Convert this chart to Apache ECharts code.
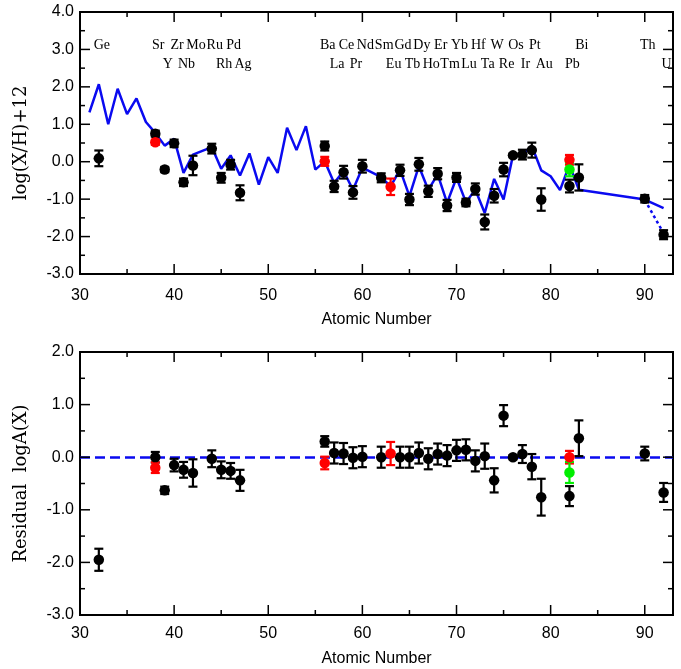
<!DOCTYPE html>
<html><head><meta charset="utf-8">
<script src="https://cdn.jsdelivr.net/npm/echarts@6/dist/echarts.min.js"></script>
<style>html,body{margin:0;padding:0;background:#fff}#c{width:681px;height:669px}</style>
</head><body><div id="c"></div>
<script>
// ---------- data ----------
const modelZ = [31,32,33,34,35,36,37,38,39,40,41,42,44,45,46,47,48,49,50,51,52,53,54,55,56,57,58,59,60,62,63,64,65,66,67,68,69,70,71,72,73,74,75,76,77,78,79,80,81,82,83,90,92];
const modelY = [1.32,2.07,1.00,1.95,1.27,1.69,1.06,0.77,0.43,0.61,-0.30,0.19,0.39,-0.19,0.17,-0.37,0.22,-0.61,0.12,-0.30,0.91,0.31,0.95,-0.21,0.01,-0.57,-0.25,-0.75,-0.16,-0.41,-0.66,-0.21,-0.92,-0.12,-0.75,-0.34,-1.10,-0.43,-1.08,-0.75,-1.37,-0.46,-1.01,0.17,0.19,0.42,-0.23,-0.39,-0.76,-0.08,-0.75,-1.01,-1.24];
const extrapZ = [90,91.8];
const extrapY = [-1.02,-1.82];

const obsZ   = [32,38,39,40,41,42,44,45,46,47,56,57,58,59,60,62,64,65,66,67,68,69,70,71,72,73,74,75,76,77,78,79,82,83,90,92];
const obsY   = [0.09,0.75,-0.21,0.49,-0.55,-0.10,0.35,-0.43,-0.08,-0.83,0.42,-0.66,-0.28,-0.82,-0.12,-0.43,-0.23,-1.01,-0.07,-0.79,-0.32,-1.17,-0.42,-1.09,-0.73,-1.61,-0.91,-0.21,0.17,0.19,0.31,-1.01,-0.65,-0.42,-0.99,-1.95];
const obsErr = [0.21,0.08,0.07,0.10,0.10,0.26,0.13,0.13,0.13,0.20,0.12,0.15,0.17,0.17,0.17,0.12,0.15,0.15,0.17,0.15,0.15,0.15,0.12,0.10,0.15,0.20,0.18,0.18,0.05,0.13,0.20,0.30,0.17,0.35,0.10,0.12];

const redZ = [38,56,63,82];
const redY = [0.52,0.01,-0.67,0.05];
const redErr = [0.07,0.12,0.22,0.13];
const greenZ = [82];
const greenY = [-0.21];
const greenErr = [0.18];

const resY   = [-1.95,0.00,-0.63,-0.15,-0.24,-0.30,-0.03,-0.24,-0.26,-0.44,0.30,0.08,0.07,-0.01,0.01,0.00,0.00,0.00,0.08,-0.03,0.06,0.03,0.13,0.14,-0.07,0.02,-0.44,0.79,0.00,0.06,-0.18,-0.76,-0.74,0.36,0.07,-0.67];
const resErr = [0.21,0.10,0.07,0.12,0.15,0.26,0.16,0.16,0.15,0.20,0.10,0.20,0.20,0.20,0.20,0.20,0.20,0.20,0.20,0.20,0.20,0.20,0.20,0.20,0.20,0.24,0.23,0.20,0.04,0.17,0.24,0.35,0.19,0.34,0.13,0.18];
const redResY = [-0.20,-0.11,0.07,0.00];
const redResErr = [0.10,0.12,0.22,0.12];
const greenResY = [-0.29];
const greenResErr = [0.20];

const elemNames = ['Ge','Sr','Y','Zr','Nb','Mo','Ru','Rh','Pd','Ag','Ba','La','Ce','Pr','Nd','Sm','Eu','Gd','Tb','Dy','Ho','Er','Tm','Yb','Lu','Hf','Ta','W','Re','Os','Ir','Pt','Au','Pb','Bi','Th','U'];
const elemZ     = [32,38,39,40,41,42,44,45,46,47,56,57,58,59,60,62,63,64,65,66,67,68,69,70,71,72,73,74,75,76,77,78,79,82,83,90,92];
const elemRow   = [0,0,1,0,1,0,0,1,0,1,0,1,0,1,0,0,1,0,1,0,1,0,1,0,1,0,1,0,1,0,1,0,1,1,0,0,1];

const xMajor = [30,40,50,60,70,80,90];
const xMinor = [35,45,55,65,75,85];
const yMajorTop = [-3,-2,-1,0,1,2,3,4];
const yMinorTop = [-2.5,-1.5,-0.5,0.5,1.5,2.5,3.5];
const yMajorRes = [-3,-2,-1,0,1,2];
const yMinorRes = [-2.5,-1.5,-0.5,0.5,1.5];

// ---------- helpers ----------
const rowY = [3.12, 2.60];
const zip3 = (a,b,c) => a.map((v,i)=>[v,b[i],c[i]]);
const zip2 = (a,b) => a.map((v,i)=>[v,b[i]]);
const SANS = '"Liberation Sans", Arial, Helvetica, sans-serif';
const SERIF = '"DejaVu Serif", serif';
const BLUE = '#0a0af0';

function errRender(color){
  return function(params, api){
    const x = api.value(0), y = api.value(1), e = api.value(2);
    const hi = api.coord([x, y+e]), lo = api.coord([x, y-e]);
    const cw = 4.5;
    const st = {stroke: color, lineWidth: 2.2};
    return {type:'group', children:[
      {type:'line', shape:{x1:hi[0],y1:hi[1],x2:lo[0],y2:lo[1]}, style:st},
      {type:'line', shape:{x1:hi[0]-cw,y1:hi[1],x2:hi[0]+cw,y2:hi[1]}, style:st},
      {type:'line', shape:{x1:lo[0]-cw,y1:lo[1],x2:lo[0]+cw,y2:lo[1]}, style:st}
    ]};
  };
}
function errSeries(grid, data, color){
  return {type:'custom', xAxisIndex: grid, yAxisIndex: grid, data, renderItem: errRender(color), silent:true, z:3};
}
function dotSeries(grid, data, color){
  return {type:'scatter', xAxisIndex: grid, yAxisIndex: grid, data, symbol:'circle', symbolSize:10.5,
    itemStyle:{color, opacity:1}, silent:true, z:4};
}
// axis ticks (major/minor, inward, mirrored on all four sides), placed through the axis scales
function tickSeries(grid, yMajor, yMinor, yMin){
  return {type:'custom', xAxisIndex:grid, yAxisIndex:grid, silent:true, z:6, clip:false,
    data:[[0]],
    renderItem:function(params, api){
      const cs = params.coordSys;
      const top = cs.y, bot = cs.y + cs.height, left = cs.x, right = cs.x + cs.width;
      const st = {stroke:'#000', lineWidth:1.5};
      const kids = [];
      const vx = (vals, len) => vals.forEach(v => {
        const px = api.coord([v, yMin])[0];
        kids.push({type:'line', shape:{x1:px,y1:bot,x2:px,y2:bot-len}, style:st});
        kids.push({type:'line', shape:{x1:px,y1:top,x2:px,y2:top+len}, style:st});
      });
      const vy = (vals, len) => vals.forEach(v => {
        const py = api.coord([30, v])[1];
        kids.push({type:'line', shape:{x1:left,y1:py,x2:left+len,y2:py}, style:st});
        kids.push({type:'line', shape:{x1:right,y1:py,x2:right-len,y2:py}, style:st});
      });
      vx(xMajor, 10); vx(xMinor, 5); vy(yMajor, 10); vy(yMinor, 5);
      return {type:'group', children:kids};
    }};
}

function xAxis(grid, name, nameGap, labelMargin){
  return {gridIndex:grid, type:'value', min:30, max:93, position:'bottom', splitLine:{show:false},
    axisLine:{show:false}, axisTick:{show:false},
    axisLabel:{show:true, customValues:xMajor, margin:labelMargin, fontFamily:SANS, fontSize:16, color:'#000'},
    name, nameLocation:'middle', nameGap, nameTextStyle:{fontFamily:SANS, fontSize:16, color:'#000'}};
}
function yAxis(grid, min, max, name, nameGap){
  return {gridIndex:grid, type:'value', min, max, interval:1, position:'left', splitLine:{show:false},
    axisLine:{show:false}, axisTick:{show:false},
    axisLabel:{show:true, margin:6, fontFamily:SANS, fontSize:16, color:'#000', formatter:v=>v.toFixed(1)},
    name, nameLocation:'middle', nameGap, nameRotate:90,
    nameTextStyle:{fontFamily:SERIF, fontSize:18, color:'#000'}};
}

const option = {
  animation:false,
  backgroundColor:'#fff',
  grid:[
    {left:80, width:593, top:12, height:262, show:true, borderColor:'#000', borderWidth:2, backgroundColor:'transparent'},
    {left:80, width:593, top:352, height:263, show:true, borderColor:'#000', borderWidth:2, backgroundColor:'transparent'}
  ],
  xAxis:[xAxis(0,'Atomic Number',38,14), xAxis(1,'Atomic Number',36,11)],
  yAxis:[yAxis(0,-3,4,'log(X/H)+12',50), yAxis(1,-3,2,'Residual  logA(X)',50)],
  series:[
    tickSeries(0, yMajorTop, yMinorTop, -3),
    tickSeries(1, yMajorRes, yMinorRes, -3),
    {type:'line', xAxisIndex:0, yAxisIndex:0, data:zip2(modelZ, modelY), symbol:'none',
      lineStyle:{color:BLUE, width:2.5}, silent:true, z:2},
    {type:'line', xAxisIndex:0, yAxisIndex:0, data:zip2(extrapZ, extrapY), symbol:'none',
      lineStyle:{color:BLUE, width:2.5, type:[3,3]}, silent:true, z:2},
    errSeries(0, zip3(obsZ, obsY, obsErr), '#000'),
    dotSeries(0, zip2(obsZ, obsY), '#000'),
    errSeries(0, zip3(redZ, redY, redErr), '#ff0000'),
    dotSeries(0, zip2(redZ, redY), '#ff0000'),
    errSeries(0, zip3(greenZ, greenY, greenErr), '#00ee00'),
    dotSeries(0, zip2(greenZ, greenY), '#00ee00'),
    {type:'custom', xAxisIndex:0, yAxisIndex:0, silent:true, z:5,
      data: elemZ.map((z,i)=>[z, elemRow[i], i]),
      renderItem:function(params, api){
        const i = api.value(2);
        const p = api.coord([api.value(0), rowY[api.value(1)]]);
        return {type:'text', x:p[0]+3, y:p[1], style:{text:elemNames[i], fill:'#000',
          font:'14px "Liberation Serif", "Times New Roman", serif', align:'center', verticalAlign:'middle'}};
      }},
    // residual panel
    Object.assign(errSeries(1, zip3(obsZ, resY, resErr), '#000'), {
      markLine:{silent:true, symbol:'none', label:{show:false},
        lineStyle:{color:BLUE, width:2.5, type:[10,5]}, data:[{yAxis:0}], z:1}}),
    dotSeries(1, zip2(obsZ, resY), '#000'),
    errSeries(1, zip3(redZ, redResY, redResErr), '#ff0000'),
    dotSeries(1, zip2(redZ, redResY), '#ff0000'),
    errSeries(1, zip3(greenZ, greenResY, greenResErr), '#00ee00'),
    dotSeries(1, zip2(greenZ, greenResY), '#00ee00')
  ]
};
const chart = echarts.init(document.getElementById('c'));
chart.setOption(option);
</script>
</body></html>
